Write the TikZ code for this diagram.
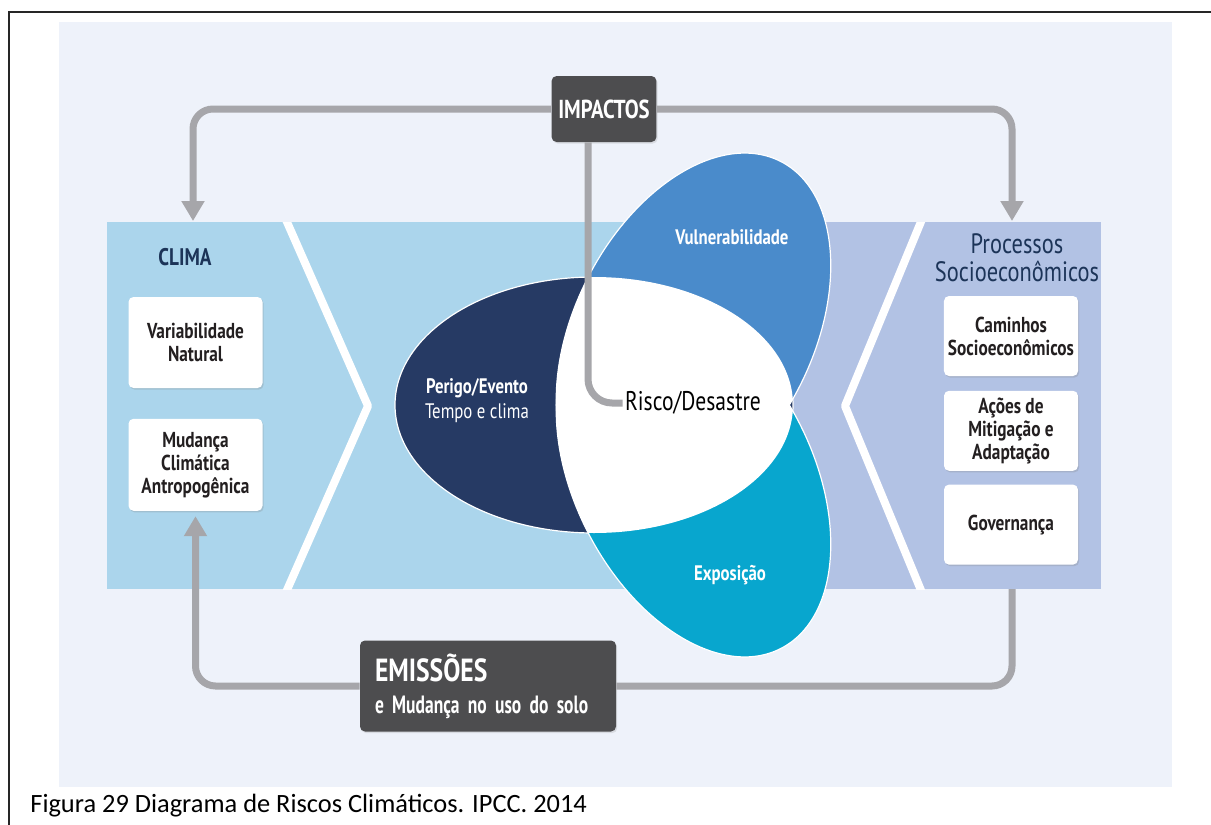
\documentclass[tikz,border=0pt]{standalone}
\usepackage{fontspec}
\setmainfont{Carlito}
\newfontfamily\diafont[FakeStretch=0.8]{PT Sans}
\newfontfamily\narrowfont[FakeStretch=0.7]{PT Sans}
\usetikzlibrary{positioning,shadows,arrows.meta}
\definecolor{pagebg}{RGB}{238,242,250}
\definecolor{climablue}{RGB}{171,213,236}
\definecolor{sociolav}{RGB}{178,194,228}
\definecolor{hazardnavy}{RGB}{38,58,100}
\definecolor{vulnblue}{RGB}{74,139,203}
\definecolor{exposcyan}{RGB}{8,166,206}
\definecolor{titlenavy}{RGB}{28,52,88}
\definecolor{boxgray}{RGB}{77,77,79}
\definecolor{linkgray}{RGB}{166,166,170}
\definecolor{cardtext}{RGB}{35,31,32}

\begin{document}
\begin{tikzpicture}[x=0.5pt,y=-0.5pt,
    card/.style={fill=white, rounded corners=2.5pt, minimum width=67pt,
      align=center, text=cardtext, inner sep=2pt,
      font=\diafont\bfseries\fontsize{10.8}{11.5}\selectfont,
      drop shadow={shadow xshift=0.6pt, shadow yshift=-0.8pt, opacity=0.25}},
    darkbox/.style={fill=boxgray, rounded corners=2.5pt, text=white,
      drop shadow={shadow xshift=0.6pt, shadow yshift=-0.8pt, opacity=0.2}},
    link/.style={draw=linkgray, line width=3.5pt, rounded corners=10pt},
    arrowed/.style={-{Triangle[width=11pt,length=10pt]}},
    stripe/.style={draw=white, line width=4pt, line join=round},
    petal/.style={draw=white, line width=0.6pt},
    petallabel/.style={text=white, font=\diafont\bfseries\fontsize{10.5}{12.5}\selectfont, align=center},
    socititle/.style={font=\diafont\fontsize{14}{15}\selectfont, text=titlenavy, inner sep=0pt, anchor=base}]
  \useasboundingbox (0,0) rectangle (1211,825);
  \fill[pagebg] (59,22) rectangle (1172,787);

  % faixa central
  \fill[climablue] (107,222) rectangle (760,589);
  \fill[sociolav] (760,222) rectangle (1101,589);
  \begin{scope}
    \clip (107,222) rectangle (1101,589);
    \draw[stripe] (282.6,212) -- (368,406) -- (282.6,600);
    \draw[stripe] (925,212) -- (845,406) -- (925,600);
  \end{scope}

  % elipses
  \fill[hazardnavy, petal] (594,405) ellipse [x radius=199, y radius=128];
  \fill[vulnblue, petal, rotate around={63:(693.5,332.5)}] (693.5,332.5) ellipse [x radius=192, y radius=119];
  \fill[exposcyan, petal, rotate around={-63:(693.5,477.5)}] (693.5,477.5) ellipse [x radius=192, y radius=119];
  \begin{scope}
    \clip (594,405) ellipse [x radius=199, y radius=128];
    \fill[white, rotate around={63:(693.5,332.5)}] (693.5,332.5) ellipse [x radius=192, y radius=119];
    \fill[white, rotate around={-63:(693.5,477.5)}] (693.5,477.5) ellipse [x radius=192, y radius=119];
  \end{scope}

  \node[petallabel] (vuln) at (732,237) {Vulnerabilidade};
  \node[petallabel] (expo) at (730,575) {Exposição};
  \node[petallabel] (hazard) at (477,401) {Perigo/Evento\\\mdseries Tempo e clima};
  \node[font=\diafont\fontsize{13.5}{15}\selectfont, text=black, inner sep=1pt] (risk) at (693,403) {Risco/Desastre};

  % clima
  \node[font=\diafont\bfseries\fontsize{12}{14}\selectfont, text=titlenavy] (clima) at (185,257) {CLIMA};
  \node[card, minimum height=45.5pt] (var) at (195.5,342.5) {Variabilidade\\Natural};
  \node[card, minimum height=46pt, below=15pt of var] (mud) {Mudança\\Climática\\Antropogênica};

  % processos socioeconomicos
  \node[socititle, text depth=0pt] (socio) at (1017,253) {Processos};
  \node[socititle, text height=7pt] (socio2) at (1017,281) {Socioeconômicos};
  \node[card, minimum height=40pt] (paths) at (1011,336) {Caminhos\\Socioeconômicos};
  \node[card, minimum height=40pt, below=7pt of paths] (acts) {Ações de\\Mitigação e\\Adaptação};
  \node[card, minimum height=40pt, below=6.5pt of acts] (gov) {Governança};

  % caixas escuras
  \node[darkbox, minimum width=48pt, minimum height=33pt,
    font=\diafont\bfseries\fontsize{13}{15}\selectfont] (imp) at (604,109) {IMPACTOS};
  \node[darkbox, minimum width=128pt, minimum height=45.5pt, inner xsep=7.5pt,
    text width=113pt, align=left,
    font=\narrowfont\bfseries\fontsize{12.5}{14.5}\selectfont] (emi) at (488,686)
    {{\diafont\bfseries\fontsize{16}{18}\selectfont EMISSÕES}\\[1.5pt]e Mudança no uso do solo};

  % conexoes
  \coordinate (climatop) at (193,221);
  \coordinate (socitop) at (1012,221);
  \coordinate (socibot) at (1012,589);
  \draw[link, arrowed] (imp.west) -| (climatop);
  \draw[link, arrowed] (imp.east) -| (socitop);
  \draw[link, arrowed] (emi.west) -| ([yshift=-2.5pt]mud.south);
  \draw[link] (emi.east) -| (socibot);
  \draw[link, rounded corners=12pt] ([xshift=-8pt]imp.south) |- (risk.west);

  % moldura e legenda
  \draw[line width=0.7pt, draw=black!85] (9,825) -- (9,12) -- (1211,12);
  \node[anchor=base west, inner sep=0pt, font=\fontsize{13.2}{15}\selectfont] (caption) at (30,812)
    {Figura 29 Diagrama de Riscos Climáticos. IPCC. 2014};
\end{tikzpicture}
\end{document}
